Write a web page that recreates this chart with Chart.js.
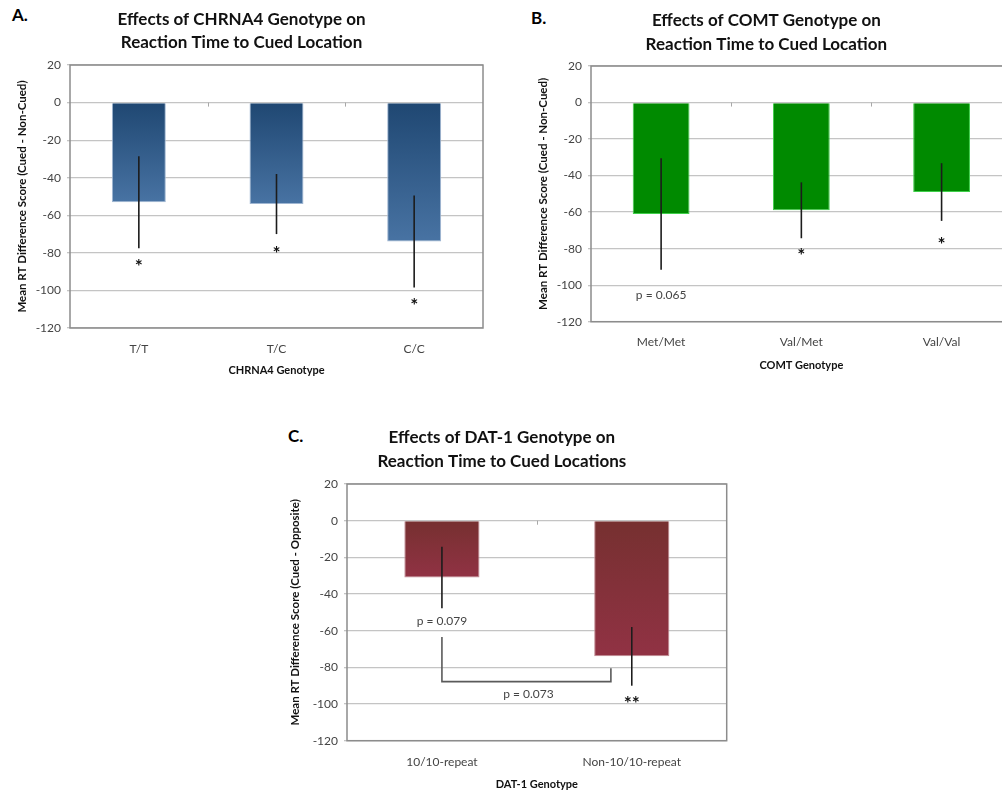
<!DOCTYPE html>
<html>
<head>
<meta charset="utf-8">
<script src="https://cdn.jsdelivr.net/npm/chart.js@4/dist/chart.umd.min.js"></script>
<style>
  html, body { margin: 0; padding: 0; background: #fff; }
  body { width: 1002px; height: 790px; position: relative; overflow: hidden; }
  canvas { position: absolute; }
  .tag { position: absolute; font: bold 17px/17px Lato, "DejaVu Sans", sans-serif; color: #000; }
</style>
</head>
<body>
<div class="tag" style="left:12px;top:6px">A.</div>
<div class="tag" style="left:531px;top:9px">B.</div>
<div class="tag" style="left:288px;top:427px">C.</div>
<canvas id="chartA" width="496" height="381" style="left:0;top:0"></canvas>
<canvas id="chartB" width="501" height="376" style="left:521px;top:0"></canvas>
<canvas id="chartC" width="460" height="375" style="left:277px;top:420px"></canvas>
<script>
// ---- Panel A: CHRNA4 ----
const genotypesA = ['T/T', 'T/C', 'C/C'];
const meanRtA = [-53, -54, -74];
const errorA = [24.5, 16, 24.5];
const starsA = [-85, -78, -105.5];

// ---- Panel B: COMT ----
const genotypesB = ['Met/Met', 'Val/Met', 'Val/Val'];
const meanRtB = [-61, -59, -49];
const errorB = [30.5, 15.3, 15.8];
const starsB = [null, -81, -75];
const pNoteB = { at: 0, v: -105.5, text: 'p = 0.065' };

// ---- Panel C: DAT-1 ----
const genotypesC = ['10/10-repeat', 'Non-10/10-repeat'];
const meanRtC = [-31, -74];
const errorC = [16.8, 16];
const starsC = [null, -97];
const pNotesC = [
  { at: 0, v: -55, text: 'p = 0.079' },
  { at: 0.456, v: -94.5, text: 'p = 0.073' }
];
const bracketC = [[0, -63.5], [0, -87.8], [0.89, -87.8], [0.89, -80.5]];

const yTicks = { min: -120, max: 20, step: 20 };
const FONT = 'Lato, "DejaVu Sans", sans-serif';

// vertical gradient from the zero line down to the end of each bar
function barGradient(top, bottom) {
  return (c) => {
    const chart = c.chart;
    const ys = chart.scales && chart.scales.y;
    if (!ys || c.type !== 'data') return bottom;
    const y0 = ys.getPixelForValue(0);
    const y1 = ys.getPixelForValue(c.raw);
    if (!isFinite(y0) || !isFinite(y1) || y0 === y1) return bottom;
    const g = chart.ctx.createLinearGradient(0, y0, 0, y1);
    g.addColorStop(0, top);
    g.addColorStop(1, bottom);
    return g;
  };
}

// frame, category ticks on the zero axis, error bars, significance notes
const marksPlugin = {
  id: 'marks',
  afterDatasetsDraw(chart, args, o) {
    const { ctx, chartArea: a, scales: { x, y } } = chart;
    ctx.save();

    // small tick marks between categories on the zero line
    const y0 = y.getPixelForValue(0);
    ctx.strokeStyle = '#a8a8a8';
    ctx.lineWidth = 1;
    for (let i = 0; i < chart.data.labels.length - 1; i++) {
      const px = Math.round(x.getPixelForValue(i + 0.5)) + 0.5;
      ctx.beginPath();
      ctx.moveTo(px, y0);
      ctx.lineTo(px, y0 + 4);
      ctx.stroke();
    }

    // error bars (single line, no caps)
    const means = chart.data.datasets[0].data;
    ctx.strokeStyle = '#1c1c1c';
    ctx.lineWidth = 1.6;
    (o.err || []).forEach((e, i) => {
      const px = x.getPixelForValue(i);
      ctx.beginPath();
      ctx.moveTo(px, y.getPixelForValue(means[i] + e));
      ctx.lineTo(px, y.getPixelForValue(means[i] - e));
      ctx.stroke();
    });

    // comparison bracket
    if (o.bracket) {
      ctx.strokeStyle = '#5a5a5a';
      ctx.lineWidth = 1.6;
      ctx.beginPath();
      o.bracket.forEach(([cx, v], k) => {
        const px = x.getPixelForValue(cx), py = y.getPixelForValue(v);
        if (k === 0) ctx.moveTo(px, py); else ctx.lineTo(px, py);
      });
      ctx.stroke();
    }

    // significance stars (glyph sits high in the em box, so nudge it down)
    ctx.textAlign = 'center';
    ctx.textBaseline = 'middle';
    ctx.fillStyle = '#111';
    ctx.font = 'bold 19px ' + FONT;
    (o.stars || []).forEach((v, i) => {
      if (v === null) return;
      const label = o.starText || '*';
      ctx.fillText(label, x.getPixelForValue(i), y.getPixelForValue(v) + 5);
    });

    // p-value notes
    ctx.fillStyle = '#444';
    ctx.font = '12px ' + FONT;
    (o.notes || []).forEach(n => {
      ctx.fillText(n.text, x.getPixelForValue(n.at), y.getPixelForValue(n.v));
    });

    // plot frame
    ctx.strokeStyle = '#8c8c8c';
    ctx.lineWidth = 1.5;
    ctx.strokeRect(a.left, a.top, a.right - a.left, a.bottom - a.top);
    ctx.restore();
  }
};

function panel(id, p) {
  return new Chart(document.getElementById(id), {
    type: 'bar',
    data: {
      labels: p.labels,
      datasets: [{
        data: p.means,
        backgroundColor: p.fill,
        borderColor: p.edge,
        borderWidth: 1,
        barPercentage: p.barPct,
        categoryPercentage: 1
      }]
    },
    options: {
      responsive: false,
      animation: false,
      events: [],
      layout: { padding: { left: 0, right: p.padRight, top: 0, bottom: 0 } },
      plugins: {
        legend: { display: false },
        tooltip: { enabled: false },
        title: {
          display: true,
          text: p.title,
          color: '#111',
          font: { family: FONT, size: 17, weight: 'bold', lineHeight: 1.36 },
          padding: { top: p.titleTop, bottom: p.titleBottom }
        },
        marks: { err: p.err, stars: p.stars, starText: p.starText, notes: p.notes, bracket: p.bracket }
      },
      scales: {
        x: {
          grid: { display: false, drawTicks: false },
          border: { display: false },
          ticks: { color: '#444', font: { family: FONT, size: 12 }, padding: p.tickPad, maxRotation: 0 },
          title: {
            display: true, text: p.xTitle, color: '#111',
            font: { family: FONT, size: 11, weight: 'bold' },
            padding: { top: 0, bottom: p.xTitlePad }
          },
          afterFit(s) { s.height = p.xHeight; }
        },
        y: {
          min: yTicks.min,
          max: yTicks.max,
          ticks: { stepSize: yTicks.step, color: '#444', font: { family: FONT, size: 12 }, padding: 6 },
          grid: { color: '#c4c4c4', lineWidth: 1.3, tickLength: 3, drawTicks: true },
          border: { display: false },
          title: {
            display: true, text: p.yTitle, color: '#111',
            font: { family: FONT, size: 11.5, weight: 'bold' },
            padding: { top: p.yTitlePad, bottom: 0 }
          },
          afterFit(s) { s.width = 70; }
        }
      }
    },
    plugins: [marksPlugin]
  });
}

panel('chartA', {
  labels: genotypesA, means: meanRtA, err: errorA, stars: starsA,
  fill: barGradient('#1f4772', '#4873a3'), edge: '#9fb6d2', barPct: 0.392,
  title: ['Effects of CHRNA4 Genotype on', 'Reaction Time to Cued Location'],
  xTitle: 'CHRNA4 Genotype', yTitle: 'Mean RT Difference Score (Cued - Non-Cued)',
  padRight: 13, titleTop: 8, titleBottom: 10.8,
  xHeight: 53, tickPad: 13.8, xTitlePad: 4.4, yTitlePad: 15.1
});

panel('chartB', {
  labels: genotypesB, means: meanRtB, err: errorB, stars: starsB, notes: [pNoteB],
  fill: '#008a00', edge: '#3fcf4a', barPct: 0.405,
  title: ['Effects of COMT Genotype on', 'Reaction Time to Cued Location'],
  xTitle: 'COMT Genotype', yTitle: 'Mean RT Difference Score (Cued - Non-Cued)',
  padRight: 10.3, titleTop: 9.4, titleBottom: 10.4,
  xHeight: 54.3, tickPad: 13.4, xTitlePad: 3.7, yTitlePad: 15.1
});

panel('chartC', {
  labels: genotypesC, means: meanRtC, err: errorC, stars: starsC, starText: '**',
  notes: pNotesC, bracket: bracketC,
  fill: barGradient('#763030', '#913244'), edge: '#c08a92', barPct: 0.396,
  title: ['Effects of DAT-1 Genotype on', 'Reaction Time to Cued Locations'],
  xTitle: 'DAT-1 Genotype', yTitle: 'Mean RT Difference Score (Cued - Opposite)',
  padRight: 10.3, titleTop: 6.4, titleBottom: 11.4,
  xHeight: 54.3, tickPad: 13.8, xTitlePad: 4.1, yTitlePad: 11.1
});
</script>
</body>
</html>
